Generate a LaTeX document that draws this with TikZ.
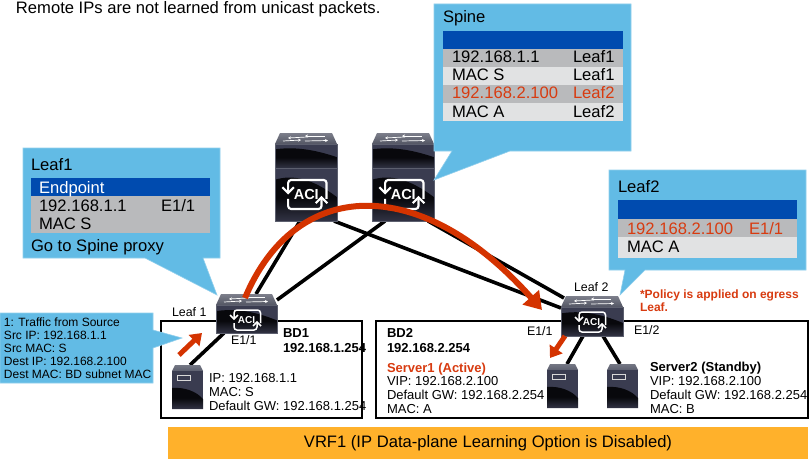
\documentclass[tikz,border=0pt]{standalone}
\usepackage{fontspec}
\setmainfont{Liberation Sans}
\usetikzlibrary{arrows.meta,calc}
\definecolor{callout}{HTML}{62BBE5}
\definecolor{hdr}{HTML}{004BAF}
\definecolor{rowd}{HTML}{B9BABC}
\definecolor{rowl}{HTML}{E1E2E3}
\definecolor{redt}{HTML}{D83B10}
\definecolor{redf}{HTML}{D43300}
\definecolor{orng}{HTML}{FFB12B}
\definecolor{devtop}{HTML}{5C5F6E}
\definecolor{devmid}{HTML}{3A3C50}
\definecolor{devlow}{HTML}{08080C}
\newcommand{\fs}[1]{\fontsize{#1}{#1}\selectfont}
\tikzset{
  x=1pt,y=-1pt,
  devbox/.style={inner sep=0pt,outer sep=0pt,rectangle,anchor=north west},
  calloutshape/.style={fill=callout,draw=callout!70!white,line width=0.6pt},
  txt/.style={inner sep=0pt,outer sep=0pt,anchor=base west,text=black},
  t15/.style={txt,font=\fs{16.6}},
  t12/.style={txt,font=\fs{13}},
  lbl/.style={txt,font=\fs{12.4}},
  b12/.style={txt,font=\fs{13}\bfseries},
  c11/.style={txt,font=\fs{12}},
  p11/.style={txt,font=\fs{12}\bfseries,text=redt},
  link/.style={draw=black,line width=3.6pt},
  boxframe/.style={draw=black,line width=2pt,fill=white},
  redarrow/.style={draw=redf,line width=6pt,-{Triangle[length=17pt,width=21pt]}},
  redsmall/.style={draw=redf,line width=5pt,-{Triangle[length=11pt,width=15pt]}},
}
% ACI logo: centre x, centre y, scale
\newcommand{\acilogo}[3]{%
\begin{scope}[shift={(#1,#2)},scale=#3]
 \pgfmathsetmacro{\logofs}{#3*10}
 \pgfmathsetmacro{\logolw}{#3*1.5}
 \draw[white,line width=\logolw pt,rounded corners=3pt] (-13,-1)--(-13,-10)--(13.5,-10)--(13.5,3);
 \draw[white,line width=\logolw pt,rounded corners=3pt] (10,2)--(10,10)--(-13,10)--(-13,3);
 \draw[white,line width=\logolw pt] (-17,-5)--(-13,-1)--(-9,-5);
 \draw[white,line width=\logolw pt] (6,6)--(10,2)--(14,6);
 \node[inner sep=0pt,text=white,font=\fontsize{\logofs}{10}\selectfont\bfseries] at (-0.5,0) {ACI};
\end{scope}}
% top plate of a switch: x, y, width
\newcommand{\swtop}[3]{%
\begin{scope}[shift={(#1,#2)}]
 \shade[top color=devtop!80!white,bottom color=devtop!90!black] (5,0)--(#3-5,0)--(#3,11)--(0,11)--cycle;
 \draw[white,line width=0.7pt,-{Stealth[length=3pt,width=3pt]}] (8,8)--(26,7);
 \draw[white,line width=0.7pt,{Stealth[length=3pt,width=3pt]}-] (13,5)--(32,4);
 \draw[white,line width=0.7pt,-{Stealth[length=3pt,width=3pt]}] (30,8)--(#3-9,7.5);
 \draw[white,line width=0.7pt,{Stealth[length=3pt,width=3pt]}-] (30,3)--(#3-12,3);
\end{scope}}
% one dark chassis part: x, y, width, height
\newcommand{\swbody}[4]{%
\begin{scope}[shift={(#1,#2)}]
 \fill[devmid] (0,0) rectangle (#3,#4);
 \shade[top color=devlow,bottom color=devmid!85!black,middle color=devlow] (0,#4*0.22) .. controls (#3*0.3,#4*0.12) and (#3*0.6,#4*0.2) .. (#3,#4*0.55) -- (#3,#4) -- (0,#4) -- cycle;
 \draw[devtop,line width=0.5pt] (0,0) rectangle (#3,#4);
\end{scope}}
\newcommand{\server}[2]{%
\begin{scope}[shift={(#1,#2)}]
 \shade[top color=devtop!85!white,bottom color=devtop] (3,0)--(28,0)--(31,6)--(0,6)--cycle;
 \fill[devmid] (0,6) rectangle (31,44);
 \shade[top color=devlow,bottom color=devmid!85!black,middle color=devlow] (0,23) .. controls (12,22) and (24,26) .. (31,34) -- (31,44) -- (0,44) -- cycle;
 \draw[white!85!black,line width=1pt] (5,10) rectangle (18,15.5);
\end{scope}}
\begin{document}
\begin{tikzpicture}
\useasboundingbox (0,0) rectangle (811,460);
\fill[white] (0,0) rectangle (811,460);
% framed boxes
\node[devbox,boxframe,minimum width=201pt,minimum height=97pt] (bdone) at (161,321) {};
\node[devbox,boxframe,minimum width=432pt,minimum height=97pt] (bdtwo) at (376,321) {};
\node[devbox,fill=orng,minimum width=640pt,minimum height=32pt,text=black,font=\fs{16.6}] (vrf) at (168,427) {VRF1 (IP Data-plane Learning Option is Disabled)};
% device anchors
\node[devbox,minimum width=62pt,minimum height=88pt] (spineA) at (275,133) {};
\node[devbox,minimum width=62pt,minimum height=88pt] (spineB) at (372,133) {};
\node[devbox,minimum width=61pt,minimum height=39pt] (leafA) at (216,294) {};
\node[devbox,minimum width=62pt,minimum height=40pt] (leafB) at (561,296) {};
\node[devbox,minimum width=31pt,minimum height=44pt] (srvA) at (172,365) {};
\node[devbox,minimum width=32pt,minimum height=45pt] (srvB) at (547,364) {};
\node[devbox,minimum width=31pt,minimum height=45pt] (srvC) at (607,364) {};
% links
\draw[link] ([xshift=25pt]spineA.south west) -- ([xshift=40pt]leafA.north west);
\draw[link] ([xshift=59pt]spineA.south west) -- ([yshift=-12pt]leafB.north west);
\draw[link] ([xshift=13pt]spineB.south west) -- ([yshift=-6pt]leafA.north east);
\draw[link] ([xshift=56pt]spineB.south west) -- ([xshift=3pt,yshift=-2pt]leafB.north west);
\draw[link] ([xshift=8pt]leafA.south west) -- ([xshift=18pt]srvA.north west);
\draw[link] ([xshift=22pt]leafB.south west) -- ([xshift=20pt]srvB.north west);
\draw[link] ([xshift=42pt]leafB.south west) -- ([xshift=13pt]srvC.north west);
% spines
\swtop{275}{133}{62}\swbody{275}{144}{62}{24}\swbody{275}{168}{62}{53}\acilogo{307}{194.5}{1.45}
\swtop{372}{133}{62}\swbody{372}{144}{62}{24}\swbody{372}{168}{62}{53}\acilogo{404}{194.5}{1.45}
% leaves
\swtop{216}{294}{61}\swbody{216}{305}{61}{28}\acilogo{247}{320}{1}
\swtop{561}{296}{62}\swbody{561}{307}{62}{29}\acilogo{592}{322}{1}
% servers
\server{172}{365}\server{547}{364}\server{607}{364}
% red arrows
\draw[redarrow] ([xshift=29pt,yshift=-4pt]leafA.north west) .. controls (295,178) and (420,172) .. ([xshift=-19pt,yshift=-14pt]leafB.north west);
\draw[redsmall] ([xshift=-24pt,yshift=10pt]srvA.north east) -- ([xshift=-14pt]leafA.south west);
\draw[redsmall] ([xshift=4pt]leafB.south west) -- ([xshift=3pt,yshift=6pt]srvB.north west);
% callouts
\fill[calloutshape] (23,148)--(220,148)--(220,258)--(203,258)--(217,295)--(145,258)--(23,258)--cycle;
\fill[calloutshape] (434,4)--(631,4)--(631,151)--(510,151)--(434,180)--(452,151)--(434,151)--cycle;
\fill[calloutshape] (609,170)--(806,170)--(806,270)--(645,270)--(620,295)--(625,270)--(609,270)--cycle;
\fill[calloutshape] (0,313)--(153,313)--(153,330)--(182,338)--(153,348)--(153,383)--(0,383)--cycle;
% tables
\fill[hdr] (31,178) rectangle (210,196);
\fill[rowd] (31,196) rectangle (210,233);
\fill[hdr] (443,31) rectangle (623,49.5);
\fill[rowd] (443,49.5) rectangle (623,67);
\fill[rowl] (443,67) rectangle (623,85);
\fill[rowd] (443,85) rectangle (623,103);
\fill[rowl] (443,103) rectangle (623,121);
\fill[hdr] (618,200) rectangle (797,219);
\fill[rowd] (618,219) rectangle (797,237);
\fill[rowl] (618,237) rectangle (797,258);
% texts
\node[t15] (title) at (16,14) {Remote IPs are not learned from unicast packets.};
\node[t15] (a1) at (31,170) {Leaf1};
\node[t15,text=white] (a2) at (39,193) {Endpoint};
\node[t15] (a3) at (39,211) {192.168.1.1};
\node[t15] (a4) at (161,211) {E1/1};
\node[t15] (a5) at (39,229) {MAC S};
\node[t15] (a6) at (31,251) {Go to Spine proxy};
\node[t15] (s1) at (443,23) {Spine};
\node[t15] (s2) at (452,63) {192.168.1.1};
\node[t15] (s3) at (573,63) {Leaf1};
\node[t15] (s4) at (452,81) {MAC S};
\node[t15] (s5) at (573,81) {Leaf1};
\node[t15,text=redt] (s6) at (452,99) {192.168.2.100};
\node[t15,text=redt] (s7) at (573,99) {Leaf2};
\node[t15] (s8) at (452,117) {MAC A};
\node[t15] (s9) at (573,117) {Leaf2};
\node[t15] (b1) at (618,192) {Leaf2};
\node[t15,text=redt] (b2) at (627,234) {192.168.2.100};
\node[t15,text=redt] (b3) at (749,234) {E1/1};
\node[t15] (b4) at (627,252) {MAC A};
\node[c11] (c1) at (4,326) {1: Traffic from Source};
\node[c11] (c2) at (4,339) {Src IP: 192.168.1.1};
\node[c11] (c3) at (4,352) {Src MAC: S};
\node[c11] (c4) at (4,365) {Dest IP: 192.168.2.100};
\node[c11] (c5) at (4,378) {Dest MAC: BD subnet MAC};
\node[lbl] (l1) at (172,316) {Leaf 1};
\node[lbl] (e1) at (231,344) {E1/1};
\node[b12] (d1) at (283,337) {BD1};
\node[b12] (d2) at (283,352) {192.168.1.254};
\node[t12] (i1) at (209,382) {IP: 192.168.1.1};
\node[t12] (i2) at (209,396) {MAC: S};
\node[t12] (i3) at (209,410) {Default GW: 192.168.1.254};
\node[b12] (d3) at (387,337) {BD2};
\node[b12] (d4) at (387,352) {192.168.2.254};
\node[b12,text=redt] (r1) at (387,372) {Server1 (Active)};
\node[t12] (r2) at (387,385) {VIP: 192.168.2.100};
\node[t12] (r3) at (387,399) {Default GW: 192.168.2.254};
\node[t12] (r4) at (387,413) {MAC: A};
\node[lbl] (e2) at (527,335) {E1/1};
\node[lbl] (l2) at (574,291) {Leaf 2};
\node[lbl] (e3) at (634,334) {E1/2};
\node[p11] (p1) at (640,298) {*Policy is applied on egress};
\node[p11] (p2) at (640,311) {Leaf.};
\node[b12] (v1) at (650,371) {Server2 (Standby)};
\node[t12] (v2) at (650,385) {VIP: 192.168.2.100};
\node[t12] (v3) at (650,399) {Default GW: 192.168.2.254};
\node[t12] (v4) at (650,413) {MAC: B};
\end{tikzpicture}
\end{document}
